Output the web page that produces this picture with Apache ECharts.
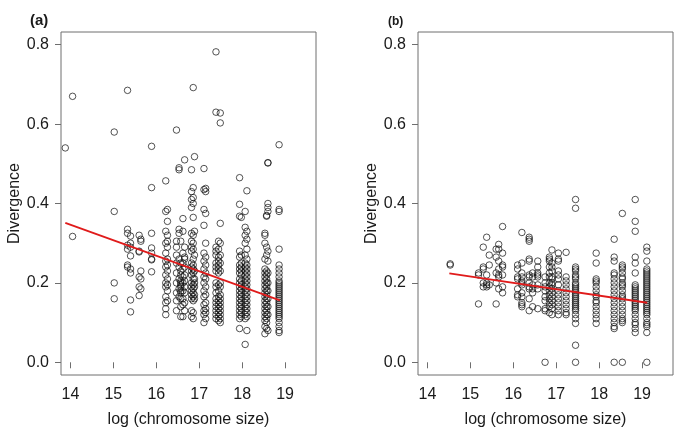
<!DOCTYPE html>
<html><head><meta charset="utf-8">
<script src="https://cdn.jsdelivr.net/npm/echarts@6/dist/echarts.min.js"></script>
<style>html,body{margin:0;padding:0;background:#fff}#c{width:685px;height:436px}</style>
</head><body><div id="c"></div>
<script>
// ---- data ----
const xTicks = [14, 15, 16, 17, 18, 19];
const yTicks = [0, 0.2, 0.4, 0.6, 0.8];
const panelLabels = ['(a)', '(b)'];
const xTitle = 'log (chromosome size)';
const yTitle = 'Divergence';

// Panel (a): x position of each column and its divergence values
const colXA = [13.88, 14.05, 15.02, 15.33, 15.40, 15.60, 15.64, 15.89, 16.22, 16.26, 16.47, 16.53, 16.57, 16.62, 16.66, 16.82, 16.86, 16.89, 17.11, 17.15, 17.39, 17.45, 17.49, 17.94, 17.98, 18.07, 18.11, 18.53, 18.57, 18.60, 18.86];
const colYA = [
  [0.54],
  [0.67, 0.317],
  [0.58, 0.38, 0.20, 0.16],
  [0.685, 0.335, 0.325, 0.295, 0.285, 0.245, 0.24],
  [0.318, 0.30, 0.29, 0.268, 0.235, 0.225, 0.157, 0.127],
  [0.32, 0.28, 0.278, 0.215, 0.19, 0.168],
  [0.31, 0.305, 0.23, 0.21, 0.185],
  [0.544, 0.44, 0.325, 0.288, 0.275, 0.26, 0.258, 0.228],
  [0.457, 0.38, 0.33, 0.30, 0.275, 0.255, 0.24, 0.22, 0.2, 0.19, 0.165, 0.15, 0.135, 0.12],
  [0.385, 0.355, 0.32, 0.305, 0.29, 0.26, 0.245, 0.23, 0.21, 0.195, 0.18, 0.155],
  [0.585, 0.305, 0.29, 0.27, 0.25, 0.225, 0.2, 0.175, 0.155, 0.13],
  [0.49, 0.485, 0.335, 0.325, 0.26, 0.24, 0.21, 0.185, 0.165],
  [0.305, 0.25, 0.23, 0.22, 0.205, 0.2, 0.195, 0.19, 0.18, 0.175, 0.16, 0.14, 0.115],
  [0.362, 0.33, 0.275, 0.25, 0.235, 0.215, 0.2, 0.18, 0.16, 0.145, 0.115],
  [0.51, 0.29, 0.265, 0.26, 0.24, 0.22, 0.205, 0.19, 0.175, 0.15, 0.13],
  [0.485, 0.43, 0.41, 0.39, 0.325, 0.305, 0.29, 0.28, 0.25, 0.24, 0.23, 0.22, 0.2, 0.19, 0.18, 0.17, 0.16, 0.13, 0.115],
  [0.692, 0.44, 0.415, 0.40, 0.365, 0.32, 0.30, 0.285, 0.26, 0.245, 0.235, 0.225, 0.21, 0.195, 0.185, 0.175, 0.165, 0.155, 0.125, 0.11],
  [0.518, 0.33, 0.27, 0.23, 0.21, 0.2, 0.19, 0.17, 0.16],
  [0.488, 0.435, 0.385, 0.345, 0.275, 0.255, 0.235, 0.215, 0.2, 0.18, 0.165, 0.145, 0.13, 0.12, 0.1],
  [0.438, 0.43, 0.375, 0.30, 0.265, 0.245, 0.225, 0.21, 0.19, 0.17, 0.15, 0.135, 0.125, 0.11],
  [0.782, 0.63, 0.29, 0.28, 0.27, 0.25, 0.24, 0.23, 0.2, 0.19, 0.175, 0.16, 0.15, 0.14, 0.13, 0.12, 0.11],
  [0.305, 0.285, 0.265, 0.255, 0.245, 0.235, 0.225, 0.195, 0.18, 0.165, 0.155, 0.145, 0.135, 0.125, 0.115, 0.105],
  [0.628, 0.603, 0.35, 0.30, 0.27, 0.25, 0.23, 0.2, 0.19, 0.17, 0.16, 0.15, 0.14, 0.13, 0.12, 0.11, 0.1],
  [0.465, 0.398, 0.368, 0.28, 0.265, 0.245, 0.235, 0.225, 0.21, 0.2, 0.19, 0.18, 0.17, 0.16, 0.15, 0.14, 0.13, 0.12, 0.11, 0.085],
  [0.365, 0.27, 0.25, 0.24, 0.23, 0.22, 0.205, 0.195, 0.185, 0.175, 0.165, 0.155, 0.145, 0.135, 0.125, 0.115],
  [0.38, 0.34, 0.32, 0.3, 0.27, 0.25, 0.24, 0.23, 0.22, 0.21, 0.2, 0.19, 0.18, 0.17, 0.16, 0.15, 0.14, 0.13, 0.12, 0.11, 0.045],
  [0.432, 0.33, 0.31, 0.285, 0.26, 0.245, 0.235, 0.225, 0.215, 0.205, 0.195, 0.185, 0.175, 0.165, 0.155, 0.145, 0.135, 0.125, 0.115, 0.08],
  [0.325, 0.32, 0.30, 0.26, 0.235, 0.225, 0.215, 0.205, 0.195, 0.185, 0.175, 0.165, 0.155, 0.145, 0.135, 0.125, 0.115, 0.105, 0.09, 0.072],
  [0.37, 0.368, 0.29, 0.27, 0.23, 0.22, 0.21, 0.2, 0.19, 0.18, 0.17, 0.16, 0.15, 0.14, 0.13, 0.12, 0.11, 0.1, 0.085],
  [0.503, 0.502, 0.40, 0.39, 0.38, 0.28, 0.255, 0.225, 0.2, 0.18, 0.16, 0.14, 0.12, 0.08],
  [0.548, 0.385, 0.38, 0.285, 0.245, 0.235, 0.225, 0.215, 0.205, 0.2, 0.195, 0.19, 0.185, 0.18, 0.175, 0.17, 0.165, 0.16, 0.155, 0.15, 0.145, 0.14, 0.135, 0.13, 0.125, 0.12, 0.115, 0.11, 0.1, 0.09, 0.08, 0.075]
];

// Panel (b)
const colXB = [14.53, 15.19, 15.30, 15.38, 15.44, 15.60, 15.66, 15.75, 16.10, 16.20, 16.37, 16.45, 16.57, 16.74, 16.84, 16.90, 17.05, 17.23, 17.45, 17.93, 18.35, 18.54, 18.84, 19.11];
const colYB = [
  [0.248, 0.245],
  [0.225, 0.22, 0.147],
  [0.29, 0.24, 0.235, 0.2, 0.19],
  [0.315, 0.22, 0.2, 0.195, 0.19],
  [0.27, 0.245, 0.195],
  [0.285, 0.265, 0.225, 0.2, 0.147],
  [0.297, 0.285, 0.255, 0.235, 0.22, 0.215, 0.185],
  [0.342, 0.275, 0.245, 0.24, 0.22, 0.19, 0.175],
  [0.245, 0.235, 0.215, 0.21, 0.185, 0.17, 0.165],
  [0.327, 0.25, 0.225, 0.215, 0.205, 0.2, 0.195, 0.175, 0.165, 0.15, 0.145, 0.14],
  [0.315, 0.31, 0.305, 0.26, 0.255, 0.22, 0.215, 0.2, 0.19, 0.185, 0.16, 0.13],
  [0.225, 0.215, 0.195, 0.185, 0.175, 0.14],
  [0.255, 0.24, 0.225, 0.22, 0.215, 0.195, 0.185, 0.135],
  [0.215, 0.2, 0.19, 0.18, 0.165, 0.155, 0.135, 0.13, 0.0],
  [0.265, 0.26, 0.255, 0.24, 0.225, 0.215, 0.2, 0.19, 0.18, 0.17, 0.16, 0.15, 0.14, 0.125],
  [0.283, 0.25, 0.24, 0.23, 0.215, 0.21, 0.2, 0.195, 0.185, 0.175, 0.165, 0.155, 0.145, 0.135, 0.12],
  [0.275, 0.26, 0.255, 0.23, 0.22, 0.21, 0.195, 0.18, 0.17, 0.16, 0.15, 0.14, 0.13, 0.12],
  [0.277, 0.215, 0.205, 0.195, 0.185, 0.175, 0.165, 0.155, 0.145, 0.135, 0.125, 0.12],
  [0.41, 0.388, 0.24, 0.235, 0.23, 0.22, 0.215, 0.21, 0.2, 0.195, 0.19, 0.185, 0.18, 0.175, 0.17, 0.165, 0.16, 0.155, 0.15, 0.145, 0.14, 0.135, 0.13, 0.12, 0.11, 0.098, 0.043, 0.0],
  [0.275, 0.25, 0.21, 0.205, 0.2, 0.19, 0.18, 0.17, 0.165, 0.155, 0.15, 0.14, 0.13, 0.12, 0.11, 0.098],
  [0.31, 0.265, 0.255, 0.225, 0.22, 0.21, 0.2, 0.19, 0.18, 0.17, 0.16, 0.15, 0.14, 0.13, 0.12, 0.11, 0.1, 0.09, 0.085, 0.0],
  [0.375, 0.245, 0.24, 0.235, 0.225, 0.215, 0.21, 0.2, 0.195, 0.19, 0.18, 0.17, 0.165, 0.16, 0.15, 0.14, 0.13, 0.12, 0.11, 0.105, 0.1, 0.0],
  [0.41, 0.355, 0.33, 0.265, 0.25, 0.225, 0.195, 0.19, 0.185, 0.18, 0.175, 0.17, 0.165, 0.16, 0.155, 0.15, 0.145, 0.14, 0.135, 0.13, 0.12, 0.11, 0.1, 0.095, 0.085, 0.075],
  [0.29, 0.28, 0.255, 0.235, 0.23, 0.225, 0.22, 0.215, 0.21, 0.205, 0.2, 0.195, 0.19, 0.185, 0.18, 0.175, 0.17, 0.165, 0.16, 0.155, 0.15, 0.145, 0.14, 0.135, 0.13, 0.125, 0.12, 0.11, 0.1, 0.095, 0.09, 0.075, 0.0]
];

// Regression lines (endpoints)
const fitAx = [13.88, 18.88];
const fitAy = [0.351, 0.156];
const fitBx = [14.51, 19.12];
const fitBy = [0.224, 0.150];

// ---- build ----
function pairs(xs, ys) {
  const out = [];
  xs.forEach((x, i) => ys[i].forEach(y => out.push([x, y])));
  return out;
}
const FONT = '"Liberation Sans", Arial, Helvetica, sans-serif';
const axisCol = '#6e6e6e';
const txt = '#1a1a1a';

function xAxis(gi) {
  return {
    type: 'value', gridIndex: gi, min: 13.78, max: 19.72,
    name: xTitle, nameLocation: 'middle', nameGap: 37,
    nameTextStyle: { fontFamily: FONT, fontSize: 16, color: txt },
    axisLine: { show: false },
    splitLine: { show: false },
    axisTick: { show: true, length: 6, customValues: xTicks, lineStyle: { color: axisCol } },
    axisLabel: { customValues: xTicks, margin: 12, fontFamily: FONT, fontSize: 16, color: txt }
  };
}
function yAxis(gi) {
  return {
    type: 'value', gridIndex: gi, min: -0.032, max: 0.832,
    name: yTitle, nameLocation: 'middle', nameGap: 37,
    nameTextStyle: { fontFamily: FONT, fontSize: 16, color: txt },
    axisLine: { show: false },
    splitLine: { show: false },
    axisTick: { show: true, length: 6, customValues: yTicks, lineStyle: { color: axisCol } },
    axisLabel: { customValues: yTicks, margin: 12, fontFamily: FONT, fontSize: 16, color: txt,
      formatter: v => v.toFixed(1) }
  };
}
const pointStyle = { color: 'rgba(0,0,0,0)', borderColor: '#111', borderWidth: 0.9 };
function scatter(gi, data) {
  return { type: 'scatter', xAxisIndex: gi, yAxisIndex: gi, data: data, symbol: 'circle',
    symbolSize: 6.5, itemStyle: pointStyle, silent: true, z: 2 };
}
function fit(gi, xs, ys) {
  return { type: 'line', xAxisIndex: gi, yAxisIndex: gi, data: xs.map((x, i) => [x, ys[i]]),
    symbol: 'none', lineStyle: { color: '#e01b1b', width: 1.8 }, silent: true, z: 3 };
}

const chart = echarts.init(document.getElementById('c'), null, { renderer: 'canvas' });
chart.setOption({
  animation: false,
  backgroundColor: '#fff',
  title: [
    { text: panelLabels[0], left: 25, top: 8, textStyle: { fontFamily: FONT, fontSize: 15, fontWeight: 'bold', color: txt } },
    { text: panelLabels[1], left: 383, top: 11, textStyle: { fontFamily: FONT, fontSize: 12, fontWeight: 'bold', color: txt } }
  ],
  grid: [
    { left: 61, top: 32, width: 255, height: 343, show: true, borderColor: axisCol, borderWidth: 1, backgroundColor: 'transparent' },
    { left: 418, top: 32, width: 255, height: 343, show: true, borderColor: axisCol, borderWidth: 1, backgroundColor: 'transparent' }
  ],
  xAxis: [xAxis(0), xAxis(1)],
  yAxis: [yAxis(0), yAxis(1)],
  series: [
    scatter(0, pairs(colXA, colYA)),
    fit(0, fitAx, fitAy),
    scatter(1, pairs(colXB, colYB)),
    fit(1, fitBx, fitBy)
  ]
});
</script>
</body></html>
